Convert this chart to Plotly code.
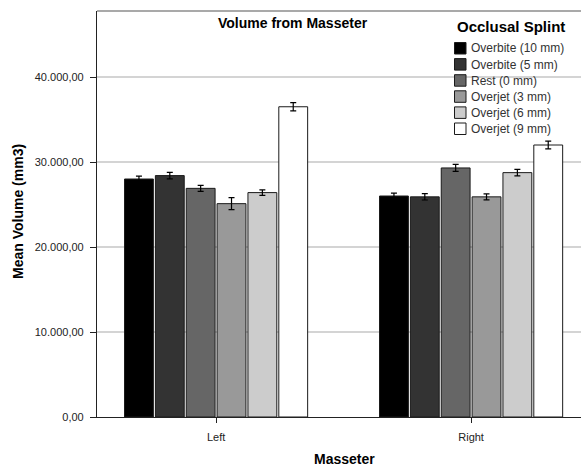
import plotly.graph_objects as go

# ---- data ----
categories = ["Left", "Right"]
series_names = ["Overbite (10 mm)", "Overbite (5 mm)", "Rest (0 mm)",
                "Overjet (3 mm)", "Overjet (6 mm)", "Overjet (9 mm)"]
left_means = [28000, 28400, 26900, 25100, 26400, 36500]
right_means = [26000, 25900, 29300, 25900, 28750, 32000]
left_err = [350, 380, 350, 700, 330, 490]
right_err = [330, 370, 410, 350, 390, 450]
colors = ["#000000", "#333333", "#666666", "#999999", "#cccccc", "#ffffff"]
y_ticks = [0, 10000, 20000, 30000, 40000]

W, H = 581, 468
L, R, T, B = 97, 0, 11, 51
PW, PH = W - L - R, H - T - B


def px(x):
    return (x - L) / PW


def py(y):
    return (H - B - y) / PH


FONT = "Arial, Liberation Sans, sans-serif"

fig = go.Figure()
for i, name in enumerate(series_names):
    fig.add_trace(go.Bar(
        name=name,
        x=categories,
        y=[left_means[i], right_means[i]],
        marker=dict(color=colors[i], line=dict(color="#1a1a1a", width=1)),
        error_y=dict(type="data", array=[left_err[i], right_err[i]],
                     color="#000000", thickness=1.2, width=3),
        showlegend=False,
    ))

annotations = [
    dict(text="<b>Volume from Masseter</b>", x=px(216), y=py(23), xref="paper", yref="paper",
         xanchor="left", yanchor="middle", showarrow=False,
         font=dict(family=FONT, size=14, color="#000")),
    dict(text="<b>Mean Volume (mm3)</b>", x=px(18), y=py(212), xref="paper", yref="paper",
         xanchor="center", yanchor="middle", showarrow=False, textangle=-90,
         font=dict(family=FONT, size=14, color="#000")),
    dict(text="<b>Masseter</b>", x=px(344), y=py(459), xref="paper", yref="paper",
         xanchor="center", yanchor="middle", showarrow=False,
         font=dict(family=FONT, size=14, color="#000")),
    dict(text="<b>Occlusal Splint</b>", x=px(455), y=py(26), xref="paper", yref="paper",
         xanchor="left", yanchor="middle", showarrow=False,
         font=dict(family=FONT, size=15, color="#000")),
]
shapes = [
    dict(type="line", xref="paper", yref="paper", x0=0, x1=1, y0=1, y1=1,
         line=dict(color="#8c8c8c", width=1.5)),
]
for i, name in enumerate(series_names):
    top = 42.5 + 16.1 * i
    shapes.append(dict(type="rect", xref="paper", yref="paper",
                       x0=px(454.5), x1=px(466), y0=py(top), y1=py(top + 11.5),
                       fillcolor=colors[i], line=dict(color="#1a1a1a", width=1)))
    annotations.append(dict(text=name, x=px(468.5), y=py(top + 6), xref="paper", yref="paper",
                            xanchor="left", yanchor="middle", showarrow=False,
                            font=dict(family=FONT, size=12, color="#333")))

fig.update_layout(
    width=W, height=H,
    margin=dict(l=L, r=R, t=T, b=B),
    paper_bgcolor="white", plot_bgcolor="white",
    barmode="group", bargap=0.274, bargroupgap=0.065,
    separators=",.",
    font=dict(family=FONT, size=11, color="#222"),
    annotations=annotations,
    shapes=shapes,
    xaxis=dict(
        type="category", range=[-0.467, 1.431],
        showline=True, linecolor="#222", linewidth=1.2,
        ticks="outside", ticklen=5, tickcolor="#222", tickwidth=1,
        showgrid=False, ticklabelstandoff=5,
        tickfont=dict(family=FONT, size=11, color="#222"),
    ),
    yaxis=dict(
        range=[0, 47765], tickvals=y_ticks, tickformat=",.2f",
        showline=True, linecolor="#222", linewidth=1.2,
        ticks="outside", ticklen=6, tickcolor="#222", tickwidth=1,
        showgrid=True, gridcolor="#d4d4d4", gridwidth=1.5,
        zeroline=False, ticklabelstandoff=4,
        tickfont=dict(family=FONT, size=11, color="#222"),
    ),
)

fig.write_html("out.html", config={"displayModeBar": False},
               post_script="document.body.style.margin='0';document.body.style.overflow='hidden';")
